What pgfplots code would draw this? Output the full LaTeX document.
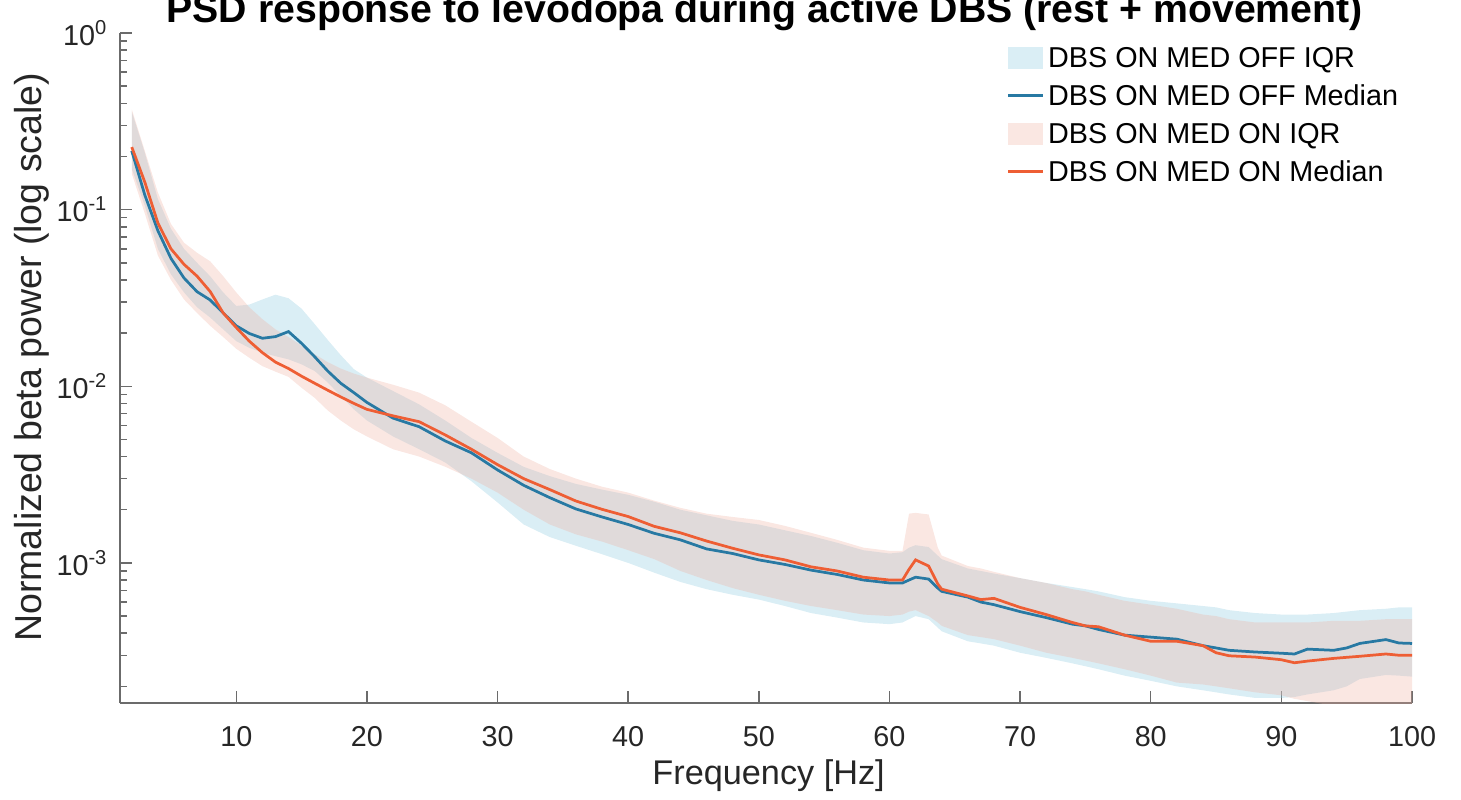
\documentclass[border=0pt]{standalone}
\usepackage{fontspec}
\setmainfont{Liberation Sans}
\usepackage{pgfplots}
\usepackage{pgfplotstable}
\pgfplotsset{compat=1.18}
\usepgfplotslibrary{fillbetween}

\definecolor{bluemed}{RGB}{40,121,163}
\definecolor{orangemed}{RGB}{238,94,52}
\definecolor{bluefill}{RGB}{150,205,225}
\definecolor{pinkfill}{RGB}{240,175,160}

\pgfplotsset{
  myarea legend/.style={legend image code/.code={\fill[##1] (0pt,-4.35pt) rectangle (14pt,4.35pt);}},
  myline legend/.style={legend image code/.code={\draw[##1] (0pt,0pt) -- (14pt,0pt);}},
}

\pgfplotstableread{
f bm om bu bl pu pl
2 0.215 0.226 0.36 0.17 0.37 0.16
3 0.121 0.143 0.21 0.105 0.215 0.095
4 0.076 0.084 0.115 0.060 0.125 0.055
5 0.053 0.060 0.078 0.043 0.083 0.040
6 0.041 0.049 0.060 0.034 0.065 0.031
7 0.0343 0.042 0.050 0.028 0.057 0.026
8 0.0308 0.0344 0.042 0.0245 0.051 0.022
9 0.026 0.026 0.034 0.021 0.042 0.019
10 0.022 0.0215 0.0285 0.018 0.034 0.0163
11 0.0199 0.018 0.029 0.0165 0.028 0.0145
12 0.0187 0.0155 0.031 0.0155 0.024 0.0130
13 0.0191 0.0137 0.033 0.0148 0.021 0.0121
14 0.0204 0.0126 0.0315 0.0142 0.019 0.0113
15 0.0175 0.0114 0.0275 0.0133 0.017 0.0098
16 0.0147 0.0104 0.0225 0.0122 0.0152 0.0086
17 0.0122 0.0095 0.0183 0.0105 0.0137 0.0073
18 0.0104 0.0087 0.0150 0.0088 0.0126 0.0064
19 0.0092 0.0080 0.0125 0.0074 0.0118 0.0057
20 0.0081 0.0074 0.0112 0.0064 0.0112 0.0052
22 0.0066 0.0068 0.0094 0.0052 0.0102 0.0044
24 0.0059 0.0063 0.0079 0.0044 0.0092 0.0040
26 0.0049 0.0053 0.0064 0.0037 0.0078 0.0035
28 0.0042 0.0044 0.0051 0.0029 0.0063 0.0030
30 0.00336 0.0036 0.0042 0.0022 0.0051 0.0025
32 0.00275 0.0030 0.0035 0.00165 0.0040 0.0020
34 0.00234 0.0026 0.0031 0.00140 0.0034 0.00165
36 0.00202 0.00224 0.0028 0.00125 0.0030 0.00145
38 0.00182 0.00201 0.0026 0.00112 0.0027 0.00132
40 0.00165 0.00183 0.00243 0.00100 0.0025 0.00118
42 0.00147 0.00161 0.00222 0.00088 0.00225 0.00105
44 0.00135 0.00148 0.00200 0.00078 0.00205 0.00090
46 0.00120 0.00133 0.00186 0.00071 0.00190 0.00080
48 0.00113 0.00121 0.00173 0.00066 0.00182 0.00072
50 0.00104 0.00111 0.00165 0.00062 0.00175 0.00066
52 0.00098 0.00104 0.00153 0.00057 0.00162 0.00061
54 0.00091 0.00095 0.00142 0.00052 0.00148 0.00057
56 0.00086 0.00090 0.00130 0.00049 0.00135 0.00054
58 0.00080 0.00083 0.00118 0.00046 0.00122 0.00051
60 0.00077 0.00080 0.00113 0.00045 0.00117 0.00050
61 0.00077 0.00080 0.00115 0.00046 0.00117 0.00051
61.5 0.00080 0.00092 0.00122 0.00048 0.00190 0.00053
62 0.00083 0.00104 0.00126 0.00050 0.00192 0.00054
63 0.00081 0.00096 0.00123 0.00048 0.00188 0.00050
63.7 0.00072 0.00076 0.00110 0.00043 0.00122 0.00046
64 0.00069 0.00071 0.00105 0.00041 0.00110 0.00044
66 0.00064 0.00065 0.00093 0.00036 0.00096 0.00039
67 0.00060 0.00062 0.00090 0.00035 0.00093 0.00038
68 0.00058 0.00063 0.00087 0.00034 0.00089 0.00037
70 0.00053 0.00056 0.00082 0.00031 0.00082 0.00034
72 0.00049 0.00051 0.00077 0.00029 0.00077 0.00031
74 0.00045 0.00046 0.00073 0.00027 0.00071 0.00029
75 0.00044 0.00044 0.00071 0.00026 0.00069 0.00028
76 0.00042 0.000435 0.00069 0.00025 0.00066 0.00027
78 0.00039 0.00039 0.00064 0.00023 0.00061 0.00025
80 0.00038 0.00036 0.00061 0.000215 0.00058 0.00023
82 0.00037 0.00036 0.00059 0.000200 0.00055 0.00021
84 0.00034 0.00034 0.00057 0.000190 0.00051 0.000205
85 0.00033 0.00031 0.00056 0.000185 0.00050 0.0002
86 0.00032 0.000298 0.00054 0.000180 0.00048 0.000195
88 0.000313 0.000293 0.00052 0.000172 0.00046 0.000185
90 0.000308 0.000283 0.00051 0.000172 0.00046 0.000178
91 0.000305 0.000272 0.00051 0.000174 0.00046 0.00017
92 0.000325 0.000278 0.00051 0.00018 0.00046 0.000165
94 0.00032 0.000288 0.00052 0.00019 0.00047 0.000155
95 0.00033 0.000292 0.00053 0.0002 0.00047 0.00015
96 0.00035 0.000296 0.00054 0.00022 0.00047 0.000145
98 0.000368 0.000305 0.00055 0.000232 0.00048 0.00014
99 0.000352 0.0003 0.00056 0.00023 0.00048 0.00014
100 0.00035 0.0003 0.00056 0.000227 0.00048 0.00014
}\data

\begin{document}
\begin{tikzpicture}
\begin{axis}[
  scale only axis, width=516.8pt, height=268pt,
  ymode=log, xmin=1.1, xmax=100, ymin=1.61e-4, ymax=1,
  axis x line=bottom, axis y line=left,
  axis line style={-, draw=black!58, line width=0.6pt},
  every outer x axis line/.append style={-},
  every outer y axis line/.append style={-},
  tick align=inside,
  major tick length=4.8pt, minor tick length=2.8pt,
  tick style={draw=black!58, line width=0.6pt},
  xtick={10,20,...,100},
  ytick={1e-3,1e-2,1e-1,1},
  yticklabels={10\textsuperscript{-3},10\textsuperscript{-2},10\textsuperscript{-1},10\textsuperscript{0}},
  minor ytick={2e-4,3e-4,4e-4,5e-4,6e-4,7e-4,8e-4,9e-4,2e-3,3e-3,4e-3,5e-3,6e-3,7e-3,8e-3,9e-3,2e-2,3e-2,4e-2,5e-2,6e-2,7e-2,8e-2,9e-2,0.2,0.3,0.4,0.5,0.6,0.7,0.8,0.9},
  /pgf/number format/assume math mode=true,
  ticklabel style={font=\fontsize{11.5}{13}\selectfont, text=black!85},
  xticklabel style={anchor=base, yshift=-17.2pt},
  yticklabel style={anchor=east, xshift=-1.4pt},
  xlabel={Frequency [Hz]},
  every axis x label/.style={at={(axis description cs:0.502,-0.121)}, anchor=base, font=\fontsize{13.7}{16}\selectfont, text=black!85},
  ylabel={Normalized beta power (log scale)},
  every axis y label/.style={at={(axis description cs:-0.068,0.516)}, anchor=center, rotate=90, font=\fontsize{15}{17}\selectfont, text=black!85},
  title={PSD response to levodopa during active DBS (rest + movement)},
  every axis title/.style={at={(axis description cs:0.499,1.0164)}, anchor=base, font=\bfseries\fontsize{15.7}{18}\selectfont, text=black},
  legend cell align=left,
  legend style={draw=none, fill=none, at={(0.6863,0.979)}, anchor=north west, inner sep=0pt, outer sep=0pt, row sep=6.8pt, column sep=1.5pt, font=\fontsize{11.5}{13}\selectfont, text=black, nodes={inner sep=0pt, text height=8pt, text depth=0pt}},
]
\addplot[draw=none, name path=bu, forget plot] table[x=f, y=bu]{\data};
\addplot[draw=none, name path=bl, forget plot] table[x=f, y=bl]{\data};
\addplot[draw=none, name path=pu, forget plot] table[x=f, y=pu]{\data};
\addplot[draw=none, name path=pl, forget plot] table[x=f, y=pl]{\data};
\addplot[fill=bluefill, fill opacity=0.35, draw=none, forget plot] fill between[of=bu and bl];
\addplot[fill=pinkfill, fill opacity=0.3, draw=none, forget plot] fill between[of=pu and pl];
\addplot[bluemed, line width=1.1pt, forget plot] table[x=f, y=bm]{\data};
\addplot[orangemed, line width=1.1pt, forget plot] table[x=f, y=om]{\data};

\addlegendimage{myarea legend, fill=bluefill, fill opacity=0.35, draw=none}
\addlegendentry{DBS ON MED OFF IQR}
\addlegendimage{myline legend, bluemed, line width=1.1pt}
\addlegendentry{DBS ON MED OFF Median}
\addlegendimage{myarea legend, fill=pinkfill, fill opacity=0.3, draw=none}
\addlegendentry{DBS ON MED ON IQR}
\addlegendimage{myline legend, orangemed, line width=1.1pt}
\addlegendentry{DBS ON MED ON Median}
\end{axis}
\pgfresetboundingbox
\path[use as bounding box] ([xshift=-48pt,yshift=-38.4pt]current axis.south west) rectangle ([xshift=19.6pt,yshift=13.2pt]current axis.north east);
\end{tikzpicture}
\end{document}
